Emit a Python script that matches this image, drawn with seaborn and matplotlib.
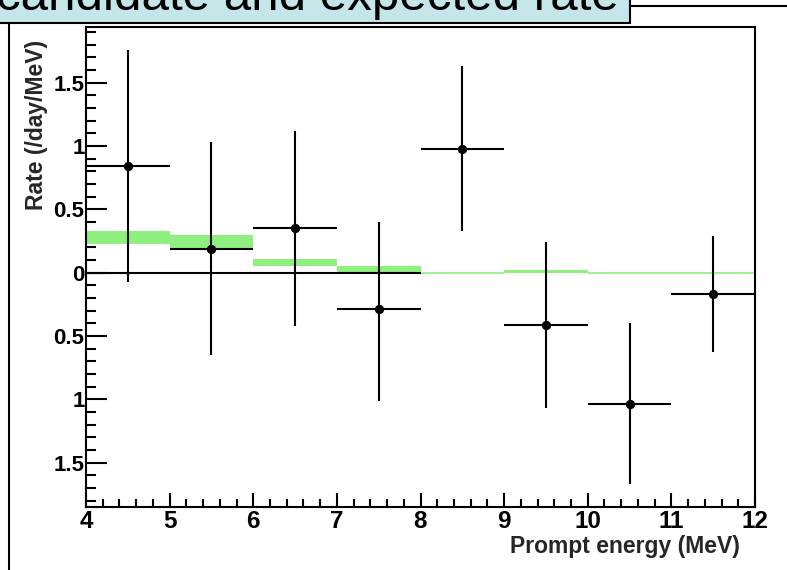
"""Candidate vs expected rate per prompt-energy bin (ROOT-style panel)."""

import matplotlib

matplotlib.use("Agg")

import matplotlib.pyplot as plt
import numpy as np
import seaborn as sns
from matplotlib.lines import Line2D
from matplotlib.patches import Rectangle
from matplotlib.ticker import FixedFormatter, FixedLocator, MultipleLocator

# data
bin_edges = [4, 5, 6, 7, 8, 9, 10, 11, 12]
bin_centers = [4.5, 5.5, 6.5, 7.5, 8.5, 9.5, 10.5, 11.5]
rate = [0.84, 0.19, 0.35, -0.29, 0.98, -0.41, -1.04, -0.17]
rate_err_lo = [0.91, 0.84, 0.77, 0.72, 0.65, 0.66, 0.63, 0.46]
rate_err_hi = [0.92, 0.84, 0.77, 0.69, 0.65, 0.65, 0.64, 0.46]

expected_lo = [0.23, 0.19, 0.055, 0.0, 0.0, 0.0, 0.0, 0.0]
expected_hi = [0.33, 0.30, 0.11, 0.05, 0.0, 0.02, 0.0, 0.0]

y_ticks = [-1.5, -1.0, -0.5, 0.0, 0.5, 1.0, 1.5]
y_tick_labels = ["1.5", "1", "0.5", "0", "0.5", "1", "1.5"]
x_ticks = [4, 5, 6, 7, 8, 9, 10, 11, 12]

title_text = "candidate and expected rate"
x_label = "Prompt energy (MeV)"
y_label = "Rate (/day/MeV)"

GREEN = "#8ff07f"
BOX_BLUE = "#c4e6e8"

sns.set_theme(style="ticks")
plt.rcParams["font.family"] = ["Liberation Sans", "DejaVu Sans"]
plt.rcParams["axes.linewidth"] = 1.5

W, H = 787, 570
fig = plt.figure(figsize=(W / 100, H / 100), dpi=100)
ax = fig.add_axes([86 / W, 1 - 507 / H, (755 - 86) / W, (507 - 27) / H])

# expected rate band
lefts = np.array(bin_edges[:-1], dtype=float)
lo = np.array(expected_lo)
hi = np.array(expected_hi)
ax.bar(lefts, hi - lo, bottom=lo, width=1.0, align="edge", color=GREEN, linewidth=0, zorder=2)
ax.hlines((lo + hi) / 2, lefts, lefts + 1, color=GREEN, linewidth=1.2, zorder=2)

ax.hlines(0, 4, 8, color="black", linewidth=1.5, zorder=3)

# candidates
ax.errorbar(
    bin_centers,
    rate,
    xerr=0.5,
    yerr=[rate_err_lo, rate_err_hi],
    fmt="none",
    ecolor="black",
    elinewidth=1.5,
    capsize=0,
    zorder=4,
)
sns.scatterplot(x=bin_centers, y=rate, color="black", s=45, edgecolor="black", linewidth=0, ax=ax, zorder=5)

ax.set_xlim(4, 12)
ax.set_ylim(-1.85, 1.94)
ax.xaxis.set_major_locator(FixedLocator(x_ticks))
ax.xaxis.set_minor_locator(MultipleLocator(0.2))
ax.yaxis.set_major_locator(FixedLocator(y_ticks))
ax.yaxis.set_major_formatter(FixedFormatter(y_tick_labels))
ax.yaxis.set_minor_locator(MultipleLocator(0.1))

ax.tick_params(axis="both", which="both", direction="in", width=1.5, colors="black")
ax.tick_params(axis="y", which="major", length=15, pad=1, labelsize=16)
ax.tick_params(axis="y", which="minor", length=7)
ax.tick_params(axis="x", which="major", length=10, pad=2, labelsize=17.5)
ax.tick_params(axis="x", which="minor", length=6)
for lab in ax.get_xticklabels() + ax.get_yticklabels():
    lab.set_fontweight("bold")
for side in ["left", "right", "top", "bottom"]:
    ax.spines[side].set_color("black")
ax.set_xlabel("")
ax.set_ylabel("")

fig.text(37 / W, 1 - 40 / H, y_label, rotation=90, ha="center", va="top", fontsize=16.5, fontweight="bold")
fig.text(740 / W, 1 - 546 / H, x_label, ha="right", va="center", fontsize=16.5, fontweight="bold")

# slide furniture: cut-off title box and frame lines
fig.add_artist(
    Rectangle(
        (-0.02, 1 - 22.7 / H),
        630 / W + 0.02,
        0.1,
        transform=fig.transFigure,
        facecolor=BOX_BLUE,
        edgecolor="black",
        linewidth=1.5,
        clip_on=False,
    )
)
fig.text(-4 / W, 1 - 10 / H, title_text, ha="left", va="baseline", fontsize=35.5,
         family=["Liberation Sans", "DejaVu Sans"], color="black")
fig.add_artist(Line2D([8.5 / W, 8.5 / W], [0, 1 - 22.7 / H], transform=fig.transFigure, color="black", linewidth=1.5))
fig.add_artist(Line2D([630 / W, 1], [1 - 6 / H, 1 - 6 / H], transform=fig.transFigure, color="black", linewidth=1.5))

fig.savefig("out.png", dpi=100)
